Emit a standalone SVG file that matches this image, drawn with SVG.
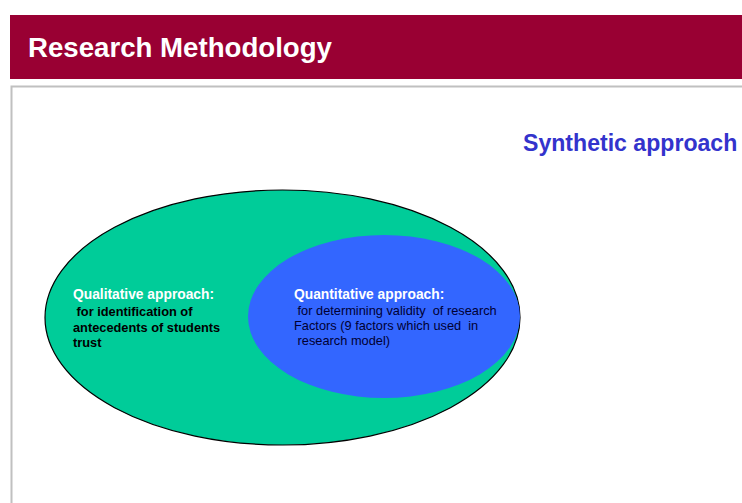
<svg xmlns="http://www.w3.org/2000/svg" width="742" height="503" viewBox="0 0 742 503">
<style>
text{font-family:"Liberation Sans",Arial,sans-serif;white-space:pre}
.b{font-weight:bold}
.w{fill:#ffffff}
.k{fill:#000000}
.s{font-size:12.8px}
.h{font-size:13.8px}
</style>
<rect width="742" height="503" fill="#ffffff"/>
<g id="header">
<rect x="10" y="15" width="732" height="64" fill="#990033"/>
<text x="28" y="57" class="b w" font-size="27" textLength="304" lengthAdjust="spacingAndGlyphs">Research Methodology</text>
</g>
<g id="frame">
<path d="M11.5,503 V86.5 H742" fill="none" stroke="#c0c0c0" stroke-width="2"/>
</g>
<g id="synthetic">
<text x="523" y="151" class="b" font-size="23.1" fill="#3333cc">Synthetic approach</text>
</g>
<g id="qualitative">
<ellipse cx="282.5" cy="317.5" rx="237.5" ry="127.5" fill="#00cc99" stroke="#000000" stroke-width="1.2"/>
<text x="73" y="299" class="b w h">Qualitative approach:</text>
<text x="73" y="316" class="b k s"> for identification of</text>
<text x="73" y="332" class="b k s">antecedents of students</text>
<text x="73" y="347" class="b k s">trust</text>
</g>
<g id="quantitative">
<ellipse cx="384" cy="316.5" rx="136" ry="81.5" fill="#3366ff"/>
<text x="294" y="299" class="b w h">Quantitative approach:</text>
<text x="294" y="315" class="s" fill="#000033"> for determining validity  of research</text>
<text x="294" y="330" class="s" fill="#000033">Factors (9 factors which used  in</text>
<text x="294" y="345" class="s" fill="#000033"> research model)</text>
</g>
<g id="connectors"/>
</svg>
